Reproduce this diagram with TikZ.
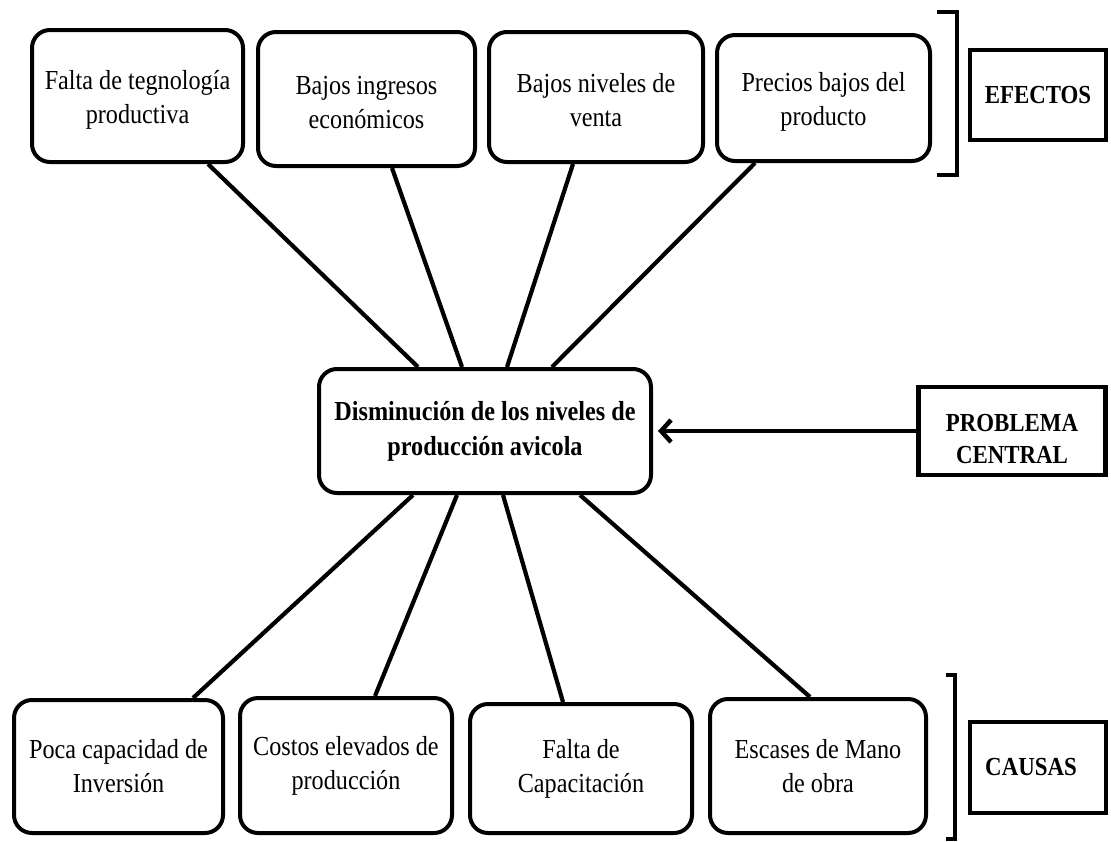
\documentclass[tikz,border=0pt]{standalone}
\usepackage{fontspec}
\setmainfont{Liberation Serif}[FakeStretch=0.88]
\usetikzlibrary{arrows.meta}
\begin{document}
\begin{tikzpicture}[x=1pt,y=-1pt,
  rbox/.style={draw, line width=4pt, rounded corners=18pt, align=center, inner sep=0pt,
               font=\fontsize{27.5}{34}\selectfont},
  cbox/.style={draw, line width=4pt, rounded corners=18pt, align=center, inner sep=0pt,
               font=\fontsize{27.5}{35}\selectfont\bfseries},
  lbox/.style={draw, line width=4.5pt, align=center, inner sep=0pt,
               font=\fontsize{26}{32}\selectfont\bfseries},
  conn/.style={line width=4.2pt},
  brk/.style={line width=4pt, line cap=butt, line join=miter}]
\useasboundingbox (0,0) rectangle (1111,841);

% top effect boxes
\node[rbox, minimum width=211pt, minimum height=132pt] (T1) at (137.5,96) {\rule{0pt}{26pt}Falta de tegnología\\productiva};
\node[rbox, minimum width=217pt, minimum height=134pt] (T2) at (366.5,99) {\rule{0pt}{26pt}Bajos ingresos\\económicos};
\node[rbox, minimum width=214pt, minimum height=130pt] (T3) at (596,97) {\rule{0pt}{26pt}Bajos niveles de\\venta};
\node[rbox, minimum width=213pt, minimum height=126pt] (T4) at (823.5,98) {\rule{0pt}{26pt}Precios bajos del\\producto};

% central problem
\node[cbox, minimum width=332pt, minimum height=124pt] (C) at (485,431) {Disminución de los niveles de\\producción avicola};

% bottom cause boxes
\node[rbox, minimum width=209pt, minimum height=133pt] (B1) at (118.5,766.5) {Poca capacidad de\\Inversión};
\node[rbox, minimum width=212pt, minimum height=135pt] (B2) at (346,765.5) {Costos elevados de\\producción};
\node[rbox, minimum width=222pt, minimum height=129pt] (B3) at (581,768.5) {Falta de\\Capacitación};
\node[rbox, minimum width=216pt, minimum height=134pt] (B4) at (818,766) {Escases de Mano\\de obra};

% labels
\node[lbox, minimum width=136pt, minimum height=90pt] (E) at (1038,95) {EFECTOS};
\node[lbox, minimum width=187pt, minimum height=88pt] (P) at (1012,431) {\rule{0pt}{34pt}PROBLEMA\\CENTRAL};
\node[lbox, minimum width=136pt, minimum height=91pt] (K) at (1038,767.5) {\hspace*{-14pt}CAUSAS};

% connectors top
\draw[conn] ([xshift=70.5pt]T1.south) -- ([xshift=-67pt]C.north);
\draw[conn] ([xshift=25.5pt]T2.south) -- ([xshift=-23pt]C.north);
\draw[conn] ([xshift=-23pt]T3.south) -- ([xshift=22pt]C.north);
\draw[conn] ([xshift=-68.5pt]T4.south) -- ([xshift=67pt]C.north);

% connectors bottom
\draw[conn] ([xshift=-72pt]C.south) -- ([xshift=74.5pt]B1.north);
\draw[conn] ([xshift=-28pt]C.south) -- ([xshift=29pt]B2.north);
\draw[conn] ([xshift=18pt]C.south) -- ([xshift=-18pt]B3.north);
\draw[conn] ([xshift=95pt]C.south) -- ([xshift=-8pt]B4.north);

% arrow
\draw[line width=4.5pt, -{Straight Barb[length=10pt,width=22pt]}, shorten >=5pt] (P.west) -- (C.east);

% brackets
\draw[brk] (937,12) -- (957,12) -- (957,175) -- (937,175);
\draw[brk] (946,675) -- (955,675) -- (955,839) -- (946,839);
\end{tikzpicture}
\end{document}
